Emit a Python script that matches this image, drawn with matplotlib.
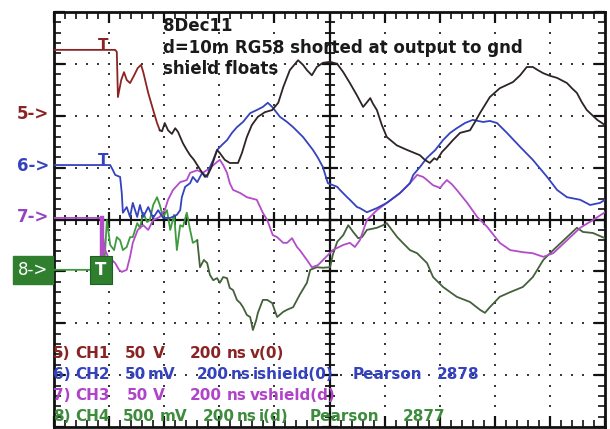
import numpy as np
import matplotlib
matplotlib.use("Agg")
import matplotlib.pyplot as plt

# ---------------- data (screen divisions: time 0..10 div @200 ns/div, amplitude -4..4 div) -------------
ch1_t = [0, 0.89, 1.11, 1.14, 1.16, 1.22, 1.27, 1.32, 1.38, 1.45, 1.52, 1.58, 1.62, 1.71, 1.80, 1.87,
         1.92, 1.96, 2.01, 2.07, 2.14, 2.20, 2.25, 2.34, 2.41, 2.47, 2.54, 2.60, 2.69, 2.74, 2.80, 2.85,
         2.90, 2.96, 3.01, 3.10, 3.19, 3.34, 3.41, 3.50, 3.59, 3.70, 3.83, 3.96, 4.07, 4.16, 4.28, 4.43,
         4.52, 4.59, 4.68, 4.77, 4.88, 5.01, 5.14, 5.25, 5.37, 5.50, 5.61, 5.68, 5.74, 5.79, 5.86, 5.95,
         6.04, 6.22, 6.41, 6.64, 6.73, 6.82, 6.90, 6.95, 7.04, 7.13, 7.24, 7.37, 7.55, 7.64, 7.73, 7.91,
         8.09, 8.33, 8.46, 8.58, 8.69, 8.78, 8.88, 9.00, 9.13, 9.31, 9.40, 9.49, 9.58, 9.67, 9.86, 10.00]
ch1_v = [3.27, 3.27, 3.27, 3.23, 2.36, 2.69, 2.84, 2.69, 2.63, 2.77, 2.92, 2.98, 2.84, 2.44, 2.11, 1.86,
         1.72, 1.70, 1.86, 1.72, 1.65, 1.76, 1.69, 1.47, 1.34, 1.24, 1.15, 1.05, 0.90, 0.82, 0.88, 0.99,
         1.15, 1.34, 1.28, 1.15, 1.09, 1.09, 1.28, 1.59, 1.82, 1.98, 2.07, 2.11, 2.25, 2.55, 2.88, 3.07,
         2.98, 2.88, 2.78, 2.94, 3.02, 3.04, 3.00, 2.84, 2.63, 2.39, 2.17, 2.26, 2.34, 2.23, 2.11, 1.82,
         1.59, 1.43, 1.34, 1.24, 1.15, 1.09, 1.18, 1.15, 1.30, 1.40, 1.53, 1.67, 1.72, 1.88, 2.05, 2.36,
         2.53, 2.65, 2.78, 2.94, 2.94, 2.88, 2.82, 2.77, 2.73, 2.63, 2.53, 2.44, 2.26, 2.11, 1.92, 1.82]

ch2_t = [0, 0.89, 1.02, 1.07, 1.11, 1.20, 1.23, 1.25, 1.32, 1.38, 1.43, 1.51, 1.56, 1.62, 1.71, 1.80,
         1.89, 1.98, 2.11, 2.23, 2.29, 2.32, 2.38, 2.47, 2.52, 2.60, 2.69, 2.78, 2.83, 2.89, 2.96, 3.05,
         3.14, 3.23, 3.32, 3.43, 3.56, 3.68, 3.79, 3.88, 3.96, 4.10, 4.23, 4.34, 4.52, 4.70, 4.79, 4.88,
         4.97, 5.14, 5.19, 5.32, 5.37, 5.50, 5.55, 5.68, 5.86, 6.04, 6.28, 6.46, 6.52, 6.64, 6.77, 6.92,
         7.06, 7.19, 7.31, 7.46, 7.60, 7.79, 7.91, 8.04, 8.22, 8.46, 8.69, 8.95, 9.13, 9.31, 9.55, 9.73,
         9.91, 10.00]
ch2_v = [1.05, 1.05, 1.05, 0.95, 0.86, 0.82, 0.51, 0.13, 0.24, 0.05, 0.32, 0.05, 0.28, 0.05, 0.24, 0.03,
         0.18, 0.03, 0.03, 0.09, 0.18, 0.43, 0.63, 0.70, 0.82, 0.72, 0.90, 0.82, 1.01, 1.15, 1.34, 1.44,
         1.53, 1.67, 1.78, 1.88, 2.05, 2.11, 2.17, 2.25, 2.17, 1.98, 1.88, 1.78, 1.59, 1.34, 1.19, 1.01,
         0.70, 0.63, 0.57, 0.43, 0.38, 0.24, 0.22, 0.14, 0.22, 0.32, 0.51, 0.70, 0.86, 1.01, 1.19, 1.34,
         1.53, 1.67, 1.76, 1.86, 1.92, 1.88, 1.90, 1.86, 1.67, 1.40, 1.15, 0.82, 0.57, 0.43, 0.38, 0.28,
         0.32, 0.38]

ch3_t = [0, 0.87, 0.89, 0.93, 0.98, 1.05, 1.11, 1.18, 1.23, 1.32, 1.38, 1.43, 1.52, 1.62, 1.71, 1.80,
         1.92, 2.01, 2.07, 2.16, 2.29, 2.41, 2.47, 2.60, 2.70, 2.83, 2.96, 3.01, 3.07, 3.14, 3.19, 3.25,
         3.38, 3.50, 3.68, 3.79, 3.87, 3.97, 4.05, 4.16, 4.23, 4.32, 4.41, 4.46, 4.59, 4.68, 4.79, 4.92,
         5.06, 5.25, 5.37, 5.46, 5.55, 5.68, 5.86, 6.04, 6.28, 6.46, 6.59, 6.70, 6.77, 6.88, 7.01, 7.06,
         7.13, 7.22, 7.31, 7.50, 7.68, 7.86, 8.09, 8.28, 8.51, 8.69, 8.88, 9.06, 9.31, 9.55, 9.78, 10.00]
ch3_v = [0.03, 0.03, -0.34, -0.59, -0.72, -0.78, -0.84, -0.97, -1.01, -0.97, -0.72, -0.45, -0.20, -0.11,
         -0.20, -0.01, 0.05, 0.18, 0.38, 0.57, 0.72, 0.76, 0.90, 0.95, 0.90, 0.99, 1.11, 1.15, 1.05, 0.90,
         0.70, 0.57, 0.51, 0.43, 0.38, 0.13, -0.01, -0.30, -0.34, -0.45, -0.45, -0.36, -0.53, -0.59, -0.78,
         -0.92, -0.88, -0.74, -0.59, -0.49, -0.45, -0.53, -0.40, -0.01, 0.18, 0.32, 0.51, 0.70, 0.86, 0.82,
         0.76, 0.66, 0.61, 0.68, 0.76, 0.68, 0.57, 0.32, 0.05, -0.14, -0.45, -0.59, -0.63, -0.65, -0.72,
         -0.65, -0.40, -0.16, -0.01, 0.14]

ch4_t = [0, 0.83, 0.91, 0.96, 1.02, 1.09, 1.14, 1.20, 1.25, 1.32, 1.38, 1.43, 1.51, 1.56, 1.62, 1.69,
         1.74, 1.80, 1.87, 1.92, 1.98, 2.05, 2.11, 2.18, 2.23, 2.29, 2.34, 2.41, 2.47, 2.52, 2.60, 2.65,
         2.72, 2.78, 2.83, 2.89, 2.96, 3.01, 3.07, 3.14, 3.19, 3.25, 3.32, 3.38, 3.43, 3.50, 3.56, 3.61,
         3.67, 3.70, 3.79, 3.87, 3.96, 4.05, 4.16, 4.23, 4.34, 4.46, 4.59, 4.65, 4.77, 4.88, 5.01, 5.06,
         5.14, 5.25, 5.34, 5.43, 5.52, 5.59, 5.68, 5.86, 5.97, 6.04, 6.13, 6.23, 6.33, 6.46, 6.59, 6.77,
         6.88, 7.06, 7.19, 7.31, 7.55, 7.73, 7.82, 7.91, 8.09, 8.28, 8.51, 8.69, 8.88, 9.06, 9.31, 9.49,
         9.60, 9.78, 10.00]
ch4_v = [-0.97, -0.97, -0.93, -0.01, -0.49, -0.59, -0.34, -0.40, -0.59, -0.53, -0.34, -0.34, -0.07,
         -0.16, 0.13, -0.05, -0.01, 0.28, 0.43, 0.28, 0.05, 0.18, -0.20, 0.09, -0.59, -0.11, -0.14, 0.13,
         -0.20, -0.45, -0.40, -0.92, -0.78, -0.84, -1.07, -1.17, -1.13, -1.22, -1.11, -1.13, -1.32, -1.36,
         -1.55, -1.61, -1.69, -1.84, -1.88, -2.13, -1.94, -1.80, -1.55, -1.55, -1.61, -1.88, -1.78, -1.74,
         -1.69, -1.45, -1.22, -0.97, -0.92, -0.93, -0.92, -0.68, -0.43, -0.30, -0.11, -0.24, -0.36, -0.34,
         -0.20, -0.16, -0.11, -0.07, -0.20, -0.34, -0.45, -0.59, -0.65, -0.84, -1.11, -1.30, -1.40, -1.49,
         -1.59, -1.74, -1.80, -1.69, -1.49, -1.40, -1.30, -1.11, -0.78, -0.59, -0.34, -0.16, -0.24, -0.26,
         -0.36]

channel_markers = ["5->", "6->", "7->", "8->"]
channel_offsets = [2.0, 1.0, 0.0, -1.0]
title_lines = ["8Dec11", "d=10m RG58 shorted at output to gnd", "shield floats"]
legend_lines = [
    ["5)", "CH1", "50", "V", "200", "ns", "v(0)"],
    ["6)", "CH2", "50", "mV", "200", "ns", "ishield(0)", "Pearson", "2878"],
    ["7)", "CH3", "50", "V", "200", "ns", "vshield(d)"],
    ["8)", "CH4", "500", "mV", "200", "ns", "i(d)", "Pearson", "2877"],
]

# ---------------- layout / style -------------
W, H = 610, 429
L, R, T, B = 54, 605, 12, 427
FONT = "DejaVu Sans"
c_red, c_dark = "#8a2424", "#2e2424"
c_blue = "#3442bf"
c_mag = "#b24cc9"
c_green, c_green_dk = "#3d9a3d", "#43613a"
c_box = "#2f7f2f"

def px2x(px):
    return (px - L) / (R - L) * 10

def py2y(py):
    return (219.5 - py) / 51.9

fig = plt.figure(figsize=(W / 100, H / 100), dpi=100)
fig.patch.set_facecolor("white")
ax = fig.add_axes([L / W, (H - B) / H, (R - L) / W, (B - T) / H])
ax.set_xlim(0, 10)
ax.set_ylim(-4, 4)
ax.set_facecolor("white")

ax.set_xticks(np.arange(0, 11, 1))
ax.set_xticks(np.arange(0, 10.01, 0.2), minor=True)
ax.set_yticks(np.arange(-4, 5, 1))
ax.set_yticks(np.arange(-4, 4.01, 0.2), minor=True)
ax.tick_params(which="both", direction="in", top=True, right=True, bottom=True, left=True,
               labelbottom=False, labelleft=False, color="#111")
ax.tick_params(which="major", length=8, width=1.6)
ax.tick_params(which="minor", length=5, width=1.2)
for s in ax.spines.values():
    s.set_linewidth(2.0)
    s.set_color("#111")

# dotted graticule
xd = np.arange(0, 10.01, 0.2)
yd = np.arange(-4, 4.01, 0.2)
for xv in [1, 2, 3, 4, 6, 7, 8, 9]:
    ax.plot(np.full(len(yd), xv), yd, ls="none", marker="s", ms=1.8, color="#3a3a3a", mew=0, zorder=1)
for yv in [-3, -2, -1, 1, 2, 3]:
    ax.plot(xd, np.full(len(xd), yv), ls="none", marker="s", ms=1.8, color="#3a3a3a", mew=0, zorder=1)

# centre axes with ticks
ax.axhline(0, color="#111", lw=1.6, zorder=2)
ax.axvline(5, color="#111", lw=1.6, zorder=2)
ax.plot(xd, np.zeros(len(xd)), ls="none", marker="|", ms=7, mew=1.3, color="#111", zorder=2)
ax.plot(np.arange(0, 11, 1), np.zeros(11), ls="none", marker="|", ms=12, mew=1.6, color="#111", zorder=2)
ax.plot(np.full(len(yd), 5.0), yd, ls="none", marker="_", ms=7, mew=1.3, color="#111", zorder=2)
ax.plot(np.full(9, 5.0), np.arange(-4, 5, 1), ls="none", marker="_", ms=12, mew=1.6, color="#111", zorder=2)

def split_plot(t, v, tsplit, c1, c2, lw=1.3, z=4):
    t = np.asarray(t); v = np.asarray(v)
    k = int(np.searchsorted(t, tsplit))
    ax.plot(t[:k + 1], v[:k + 1], color=c1, lw=lw, zorder=z)
    ax.plot(t[k:], v[k:], color=c2, lw=lw, zorder=z)

split_plot(ch4_t, ch4_v, 2.6, c_green, c_green_dk, z=3)
ax.plot(ch3_t, ch3_v, color=c_mag, lw=1.3, zorder=4)
ax.plot(ch2_t, ch2_v, color=c_blue, lw=1.3, zorder=5)
split_plot(ch1_t, ch1_v, 1.9, c_red, c_dark, z=6)

# trigger markers
trig_x = ch1_t[1]
ax.text(trig_x, ch1_v[1] - 0.06, "T", color=c_red, fontsize=11, fontweight="bold", family=FONT,
        ha="center", va="bottom", zorder=7)
ax.text(trig_x, ch2_v[1] - 0.06, "T", color=c_blue, fontsize=11, fontweight="bold", family=FONT,
        ha="center", va="bottom", zorder=7)
ax.plot([ch3_t[1], ch3_t[1]], [ch3_v[1], ch3_v[4]], color=c_mag, lw=3.2, zorder=7)
ax.text(px2x(101), ch4_v[0], "T", color="white", fontsize=12, fontweight="bold", family=FONT,
        ha="center", va="center", zorder=8,
        bbox=dict(boxstyle="square,pad=0.3", fc=c_box, ec="#1f5f1f", lw=0.8))

# channel offset markers
mk_colors = [c_red, c_blue, "#9344c4"]
for lab, off, col in zip(channel_markers[:3], channel_offsets[:3], mk_colors):
    ax.text(px2x(33), off + 0.04, lab, color=col, fontsize=12, fontweight="bold", family=FONT,
            ha="center", va="center", clip_on=False)
ax.text(px2x(33), channel_offsets[3] + 0.03, channel_markers[3], color="white", fontsize=12,
        family=FONT, ha="center", va="center", clip_on=False,
        bbox=dict(boxstyle="square,pad=0.3", fc=c_box, ec=c_box))

# title text
for i, line in enumerate(title_lines):
    ax.text(px2x(163), py2y(26 + 21.5 * i), line, color="#1a1a1a", fontsize=12, fontweight="bold",
            family=FONT, ha="left", va="center", zorder=9)

# legend text, word columns
leg_cols = [
    [53, 75, 125, 153, 190, 227, 250],
    [53, 75, 125, 148, 197, 231, 253, 353, 437],
    [53, 75, 127, 153, 190, 227, 250],
    [53, 75, 123, 160, 203, 237, 259, 310, 403],
]
leg_colors = [c_red, c_blue, "#b044c8", "#3c8c3c"]
for i, (words, cols, col) in enumerate(zip(legend_lines, leg_cols, leg_colors)):
    yy = py2y(354 + 21 * i)
    for w, cx in zip(words, cols):
        ax.text(px2x(cx), yy, w, color=col, fontsize=11, fontweight="bold", family=FONT,
                ha="left", va="center", zorder=9)

fig.savefig("out.png", dpi=100)
